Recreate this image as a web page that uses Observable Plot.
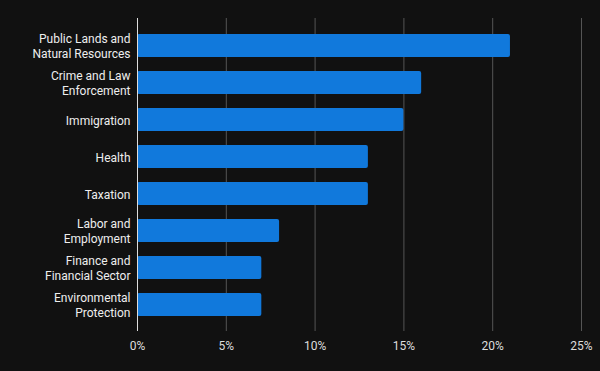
<!DOCTYPE html>
<html><head><meta charset="utf-8">
<script src="https://cdn.jsdelivr.net/npm/d3@7"></script>
<script src="https://cdn.jsdelivr.net/npm/@observablehq/plot@0.6"></script>
<style>
html,body{margin:0;padding:0;background:#111111;}
</style></head>
<body><div id="chart"></div>
<script>
const categories = ["Public Lands and Natural Resources","Crime and Law Enforcement","Immigration","Health","Taxation","Labor and Employment","Finance and Financial Sector","Environmental Protection"];
const tickLabels = ["Public Lands and\nNatural Resources","Crime and Law\nEnforcement","Immigration","Health","Taxation","Labor and\nEmployment","Finance and\nFinancial Sector","Environmental\nProtection"];
const values = [21,16,15,13,13,8,7,7];
const xTicks = [0,5,10,15,20,25];

const data = categories.map((c,i)=>({category:c, value:values[i]}));
const labelOf = new Map(categories.map((c,i)=>[c,tickLabels[i]]));

const chart = Plot.plot({
  width: 600, height: 371,
  marginTop: 18, marginBottom: 40, marginLeft: 137, marginRight: 19,
  style: {background:"#111111", color:"#dddddd", fontFamily:"Roboto, sans-serif", fontSize:"12px"},
  x: {domain:[0,25], ticks: xTicks},
  y: {domain: categories, padding: 0.385},
  marks: [
    Plot.gridX(xTicks.slice(1), {stroke:"#555555", strokeOpacity:1}),
    Plot.barX(data, {x:"value", y:"category", fill:"#1179dc", rx:2}),
    Plot.ruleX([0], {stroke:"#dddddd"}),
    Plot.axisX({ticks: xTicks, tickFormat: d=>d+"%", tickSize: 0, tickPadding: 10, fill:"#dddddd", label:null}),
    Plot.axisY({tickSize:0, tickPadding:7, tickFormat: d=>labelOf.get(d), lineHeight:1.2, fill:"#eeeeee", label:null})
  ]
});
document.getElementById("chart").appendChild(chart);
</script></body></html>
